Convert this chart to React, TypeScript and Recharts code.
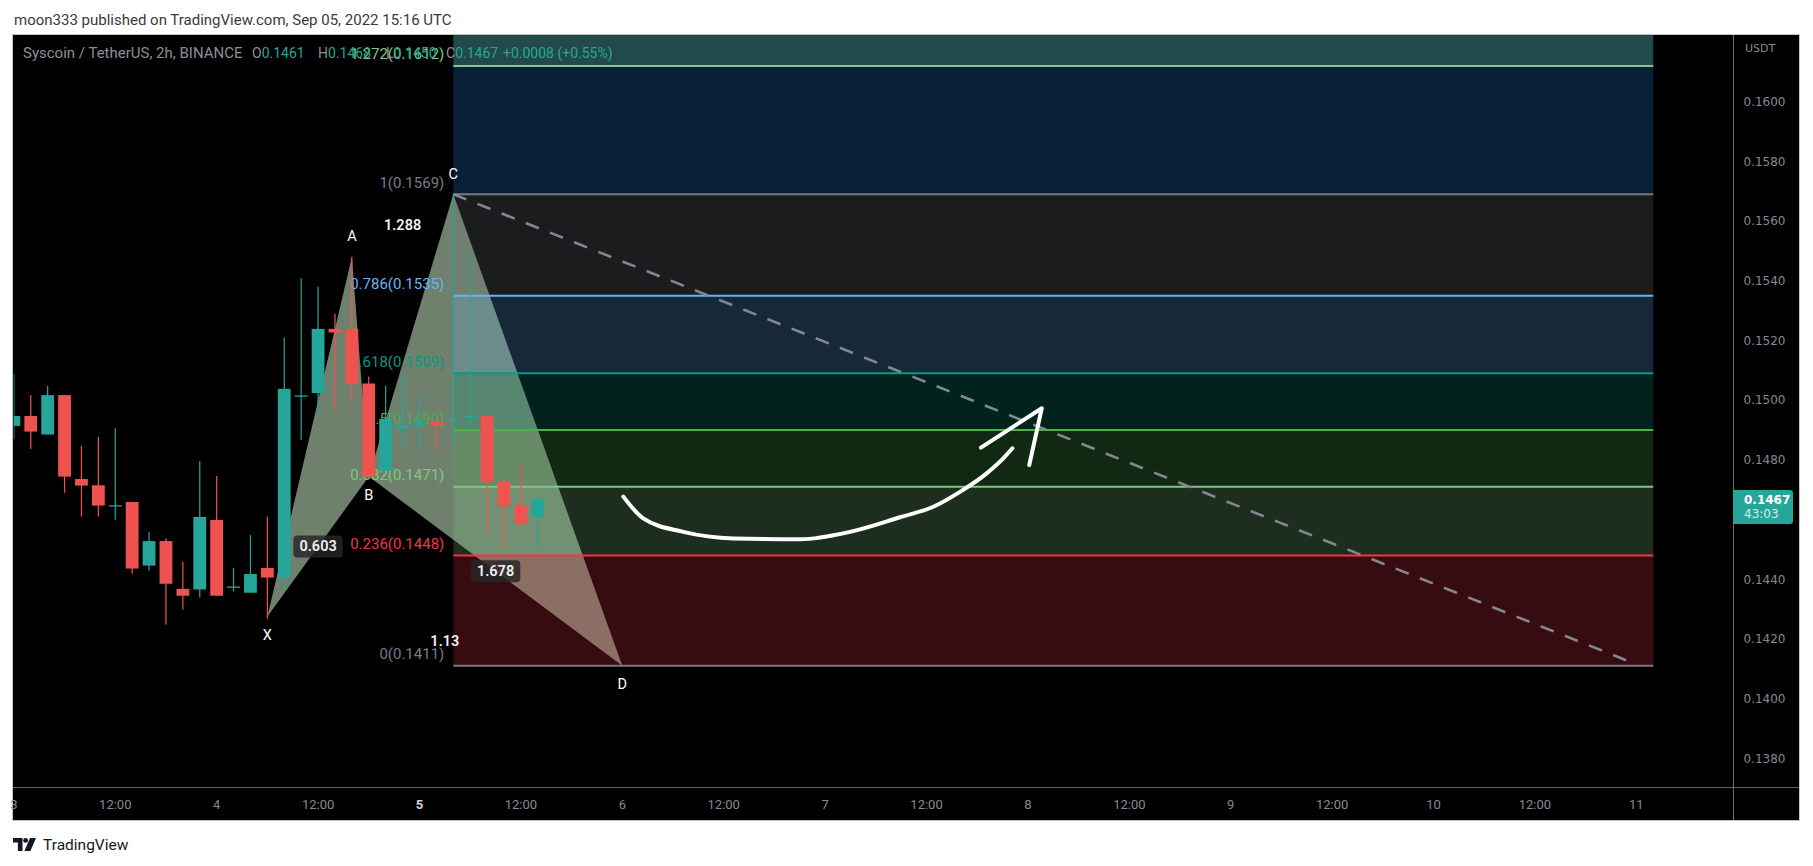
import React from 'react';
import { ComposedChart, Bar, Scatter, XAxis, YAxis, ReferenceArea, ReferenceLine } from 'recharts';

// SYS/USDT 2h candles, bar 0 = Sep 3 00:00
const opens = [0.14914, 0.14947, 0.14885, 0.15017, 0.14736, 0.14715, 0.14648, 0.14659, 0.14446, 0.14528, 0.14368, 0.14366, 0.14599, 0.14376, 0.14355, 0.14438, 0.14406, 0.15016, 0.15024, 0.15239, 0.15239, 0.15056, 0.14764, 0.14905, 0.14916, 0.14927, 0.14937, 0.14947, 0.14947, 0.14726, 0.14649, 0.14608];
const highs = [0.15088, 0.15017, 0.15048, 0.15017, 0.14847, 0.14877, 0.14906, 0.14659, 0.14559, 0.14537, 0.14458, 0.14796, 0.14746, 0.14438, 0.14548, 0.14610, 0.15210, 0.15409, 0.15380, 0.15289, 0.15481, 0.15079, 0.15049, 0.15090, 0.15017, 0.14930, 0.15690, 0.15497, 0.14950, 0.14737, 0.14780, 0.14678];
const lows = [0.14869, 0.14837, 0.14885, 0.14690, 0.14610, 0.14610, 0.14600, 0.14419, 0.14429, 0.14248, 0.14298, 0.14339, 0.14345, 0.14359, 0.14355, 0.14268, 0.14368, 0.14867, 0.14967, 0.14967, 0.14997, 0.14744, 0.14764, 0.14830, 0.14830, 0.14830, 0.14857, 0.14908, 0.14558, 0.14510, 0.14570, 0.14500];
const closes = [0.14947, 0.14895, 0.15017, 0.14744, 0.14714, 0.14647, 0.14648, 0.14436, 0.14528, 0.14385, 0.14345, 0.14609, 0.14345, 0.14376, 0.14418, 0.14406, 0.15038, 0.15016, 0.15239, 0.15227, 0.15055, 0.14744, 0.14937, 0.14917, 0.14927, 0.14916, 0.14937, 0.14947, 0.14726, 0.14645, 0.14585, 0.14668];

const timeTickPos = [0, 6, 12, 18, 24, 30, 36, 42, 48, 54, 60, 66, 72, 78, 84, 90, 96];
const timeTickLabels = ['3', '12:00', '4', '12:00', '5', '12:00', '6', '12:00', '7', '12:00', '8', '12:00', '9', '12:00', '10', '12:00', '11'];
const priceTicks = [0.138, 0.14, 0.142, 0.144, 0.148, 0.15, 0.152, 0.154, 0.156, 0.158, 0.16];

// fib retracement drawn from C down to the 0.1411 target
const fibRatios = ['0', '0.236', '0.382', '0.5', '0.618', '0.786', '1', '1.272'];
const fibPrices = [0.1411, 0.1448, 0.1471, 0.149, 0.1509, 0.1535, 0.1569, 0.1612];
const fibTopPrice = 0.1667;
const fibStartBar = 26;
const fibEndBar = 97;
const trendEnd = { i: 95.8, p: 0.1412 };

// XABCD pattern
const patternNames = ['X', 'A', 'B', 'C', 'D'];
const patternBars = [15, 20, 21, 26, 36];
const patternPrices = [0.14275, 0.15481, 0.14744, 0.1569, 0.1411];
const ratioLabels = ['0.603', '1.288', '1.678', '1.13'];
const ratioLegs = [[0, 2], [1, 3], [2, 4], [0, 4]];

// hand-drawn arrow
const arrowBars = [36.06, 37.24, 39.61, 42.57, 46.51, 49.47, 52.43, 54.4, 55.98, 57.56, 58.54, 59.08];
const arrowPrices = [0.14677, 0.14604, 0.14559, 0.14537, 0.14534, 0.14559, 0.14608, 0.14643, 0.14693, 0.14755, 0.14805, 0.14839];
const headBars = [57.22, 60.82, 60.08];
const headPrices = [0.14841, 0.14973, 0.14783];

const UP = '#26a69a';
const DOWN = '#ef5350';
const levelColors = ['#787b86', '#f23645', '#81c784', '#4caf50', '#089981', '#64b5f6', '#787b86', '#81c784'];
const bandColors = ['#f23645', '#81c784', '#4caf50', '#089981', '#64b5f6', '#787b86', '#1f8df7', '#57b9b9'];
const bandOpacity = [0.227, 0.227, 0.227, 0.227, 0.227, 0.227, 0.227, 0.4];
const ratioBoxed = [true, false, true, false];
const FONT = 'Roboto, sans-serif';
const SCALE_FONT = '"DejaVu Sans", sans-serif';

const candles = opens.map((o, k) => ({ i: k, o, hi: highs[k], lo: lows[k], c: closes[k] }));
const pattern = patternNames.map((name, k) => ({ i: patternBars[k], p: patternPrices[k], name, k }));
const triXAB = [pattern[0], pattern[1], pattern[2]];
const triBCD = [pattern[2], pattern[3], pattern[4]];
const ratioPoints = ratioLabels.map((text, k) => {
  const [a, b] = ratioLegs[k];
  return { i: (pattern[a].i + pattern[b].i) / 2, p: (pattern[a].p + pattern[b].p) / 2, text, k };
});
const fibLabelPoints = fibPrices.map((p, k) => ({ i: fibStartBar, p, text: `${fibRatios[k]}(${p.toFixed(4)})`, k }));
const arrowCurve = arrowBars.map((i, k) => ({ i, p: arrowPrices[k] }));
const arrowHead = headBars.map((i, k) => ({ i, p: headPrices[k] }));

const Candle = (props: any) => {
  const { x, y, width, height, payload } = props;
  if (x == null || y == null) return null;
  const top = Math.min(y, y + height);
  const h = Math.abs(height);
  const span = payload.hi - payload.lo || 1e-9;
  const yOf = (v: number) => top + ((payload.hi - v) / span) * h;
  const color = payload.c >= payload.o ? UP : DOWN;
  const cx = x + width / 2;
  const bt = yOf(Math.max(payload.o, payload.c));
  const bb = yOf(Math.min(payload.o, payload.c));
  return (
    <g>
      <rect x={cx - 0.6} y={top} width={1.2} height={Math.max(h, 1)} fill={color} />
      <rect x={cx - 6.4} y={bt} width={12.8} height={Math.max(1.3, bb - bt)} fill={color} />
    </g>
  );
};

const Triangle = (lp: any) => (
  <polygon points={(lp.points || []).map((pt: any) => `${pt.x},${pt.y}`).join(' ')} fill="#6f816d" stroke="none" />
);

const Nothing = () => <g />;

const FibLabel = (props: any) => {
  const { cx, cy, payload } = props;
  return (
    <text x={cx - 9} y={cy - 11.5} textAnchor="end" dominantBaseline="central" fill={levelColors[payload.k]} fontSize={15} fontFamily={FONT}>
      {payload.text}
    </text>
  );
};

const PointLabel = (props: any) => {
  const { cx, cy, payload } = props;
  const k = payload.k;
  const prev = k > 0 ? pattern[k - 1].p : null;
  const next = k < pattern.length - 1 ? pattern[k + 1].p : null;
  const isHigh = (prev == null || payload.p > prev) && (next == null || payload.p > next);
  return (
    <text x={cx} y={cy + (isHigh ? -20 : 19)} textAnchor="middle" dominantBaseline="central" fill="#ffffff" fontSize={14.5} fontFamily={FONT}>
      {payload.name}
    </text>
  );
};

const RatioLabel = (props: any) => {
  const { cx, cy, payload } = props;
  const w = payload.text.length * 8.3 + 8;
  return (
    <g>
      {ratioBoxed[payload.k] && <rect x={cx - w / 2} y={cy - 11} width={w} height={22} rx={4} fill="rgba(38,38,38,0.82)" />}
      <text x={cx} y={cy} textAnchor="middle" dominantBaseline="central" fill="#f2f2f2" fontSize={14.5} fontWeight={600} fontFamily={FONT}>
        {payload.text}
      </text>
    </g>
  );
};

const TimeTick = (props: any) => {
  const { x, y, payload } = props;
  const label = timeTickLabels[timeTickPos.indexOf(payload.value)];
  const strong = label === '5';
  return (
    <text x={x} y={y} dy="0.71em" textAnchor="middle" fill={strong ? '#d1d4dc' : '#868993'} fontWeight={strong ? 700 : 400} fontSize={13} fontFamily={FONT}>
      {label}
    </text>
  );
};

export default function App() {
  const bands = fibPrices.map((p, k) => ({ y1: p, y2: k < fibPrices.length - 1 ? fibPrices[k + 1] : fibTopPrice, k }));
  return (
    <div style={{ position: 'absolute', left: 0, top: 0, width: 1813, height: 866, background: '#ffffff', overflow: 'hidden', fontFamily: FONT }}>
      <div style={{ position: 'absolute', left: 14, top: 10.5, fontSize: 15, lineHeight: '18px', color: '#3a3a3a', whiteSpace: 'nowrap' }}>
        moon333 published on TradingView.com, Sep 05, 2022 15:16 UTC
      </div>
      <div style={{ position: 'absolute', left: 12, top: 34, width: 1788, height: 787, background: '#000000', border: '1px solid #c4c4c4', boxSizing: 'border-box' }} />
      <div style={{ position: 'absolute', left: 0, top: 0 }}>
        <ComposedChart width={1813} height={866} data={candles} margin={{ top: 34.7, right: 13.7, bottom: 45, left: 13.7 }}>
          <XAxis
            type="number"
            dataKey="i"
            domain={[-0.012, 101.72]}
            allowDataOverflow
            ticks={timeTickPos}
            interval={0}
            height={33.5}
            tickLine={false}
            axisLine={false}
            tickSize={6}
            tickMargin={6}
            tick={<TimeTick />}
          />
          <YAxis
            orientation="right"
            type="number"
            domain={[0.137025, 0.162245]}
            allowDataOverflow
            ticks={priceTicks}
            interval={0}
            width={66.3}
            tickLine={false}
            axisLine={false}
            tickSize={6}
            tickMargin={4.5}
            tickFormatter={(v: number) => v.toFixed(4)}
            tick={{ fill: '#868993', fontSize: 12, fontFamily: SCALE_FONT }}
          />
          <Scatter data={triXAB} dataKey="p" line={Triangle} shape={Nothing} isAnimationActive={false} zIndex={50} />
          <Scatter data={triBCD} dataKey="p" line={Triangle} shape={Nothing} isAnimationActive={false} zIndex={50} />
          {bands.map((b) => (
            <ReferenceArea
              key={`band-${b.k}`}
              x1={fibStartBar}
              x2={fibEndBar}
              y1={b.y1}
              y2={b.y2}
              fill={bandColors[b.k]}
              fillOpacity={bandOpacity[b.k]}
              stroke="none"
              ifOverflow="hidden"
              zIndex={60}
            />
          ))}
          {fibPrices.map((p, k) => (
            <ReferenceLine
              key={`lvl-${k}`}
              segment={[{ x: fibStartBar, y: p }, { x: fibEndBar, y: p }]}
              stroke={levelColors[k]}
              strokeWidth={2}
              ifOverflow="visible"
              zIndex={70}
            />
          ))}
          <Scatter data={fibLabelPoints} dataKey="p" shape={FibLabel} isAnimationActive={false} zIndex={75} />
          <Bar dataKey={(d: any) => [d.lo, d.hi]} barSize={13} shape={Candle} isAnimationActive={false} zIndex={80} />
          <ReferenceLine
            segment={[{ x: fibStartBar, y: fibPrices[6] }, { x: trendEnd.i, y: trendEnd.p }]}
            stroke="#84878f"
            strokeWidth={2.6}
            strokeDasharray="14 12"
            ifOverflow="visible"
            zIndex={85}
          />
          <Scatter
            data={arrowCurve}
            dataKey="p"
            line={{ stroke: '#ffffff', strokeWidth: 4, strokeLinecap: 'round', strokeLinejoin: 'round' }}
            lineType="joint"
            lineJointType="monotoneX"
            shape={Nothing}
            isAnimationActive={false}
            zIndex={90}
          />
          <Scatter
            data={arrowHead}
            dataKey="p"
            line={{ stroke: '#ffffff', strokeWidth: 4, strokeLinecap: 'round', strokeLinejoin: 'round' }}
            lineType="joint"
            lineJointType="linear"
            shape={Nothing}
            isAnimationActive={false}
            zIndex={90}
          />
          <Scatter data={pattern} dataKey="p" shape={PointLabel} isAnimationActive={false} zIndex={95} />
          <Scatter data={ratioPoints} dataKey="p" shape={RatioLabel} isAnimationActive={false} zIndex={95} />
        </ComposedChart>
      </div>
      {/* pane separators */}
      <div style={{ position: 'absolute', left: 13, top: 787, width: 1786, height: 1, background: '#5f626c' }} />
      <div style={{ position: 'absolute', left: 1733, top: 35, width: 1, height: 785, background: '#6b6e78' }} />
      {/* legend row */}
      <div style={{ position: 'absolute', left: 0, top: 44, height: 18, fontSize: 14, lineHeight: '18px', whiteSpace: 'nowrap' }}>
        <span style={{ position: 'absolute', left: 23, fontSize: 15, color: '#8c8f98' }}>Syscoin / TetherUS, 2h, BINANCE</span>
        <span style={{ position: 'absolute', left: 252, color: '#8c8f98' }}>O<span style={{ color: UP }}>0.1461</span></span>
        <span style={{ position: 'absolute', left: 318, color: '#8c8f98' }}>H<span style={{ color: UP }}>0.1468</span></span>
        <span style={{ position: 'absolute', left: 386, color: '#8c8f98' }}>L<span style={{ color: UP }}>0.1450</span></span>
        <span style={{ position: 'absolute', left: 446, color: '#8c8f98' }}>C<span style={{ color: UP }}>0.1467</span></span>
        <span style={{ position: 'absolute', left: 503, color: UP }}>+0.0008 (+0.55%)</span>
      </div>
      <div style={{ position: 'absolute', left: 1745, top: 42, fontSize: 11, lineHeight: '14px', color: '#868993', fontFamily: SCALE_FONT }}>USDT</div>
      <div style={{ position: 'absolute', left: 1733, top: 490, width: 59.5, height: 34, background: UP, borderRadius: '0 3px 3px 0', fontFamily: SCALE_FONT, fontSize: 12, lineHeight: '14px', color: '#ffffff' }}>
        <div style={{ position: 'absolute', left: 11, top: 3, fontWeight: 700 }}>0.1467</div>
        <div style={{ position: 'absolute', left: 11, top: 17, color: 'rgba(255,255,255,0.82)' }}>43:03</div>
      </div>
      {/* footer */}
      <svg style={{ position: 'absolute', left: 13, top: 838 }} width={24} height={14} viewBox="0 0 24 14">
        <path d="M0 0h9.5v13h-4.6v-8.4H0z" fill="#131722" />
        <circle cx={12.6} cy={2.4} r={2.4} fill="#131722" />
        <path d="M17 0h6l-5.6 13h-6z" fill="#131722" />
      </svg>
      <div style={{ position: 'absolute', left: 43, top: 836, fontSize: 15.5, lineHeight: '18px', color: '#131722' }}>TradingView</div>
    </div>
  );
}
